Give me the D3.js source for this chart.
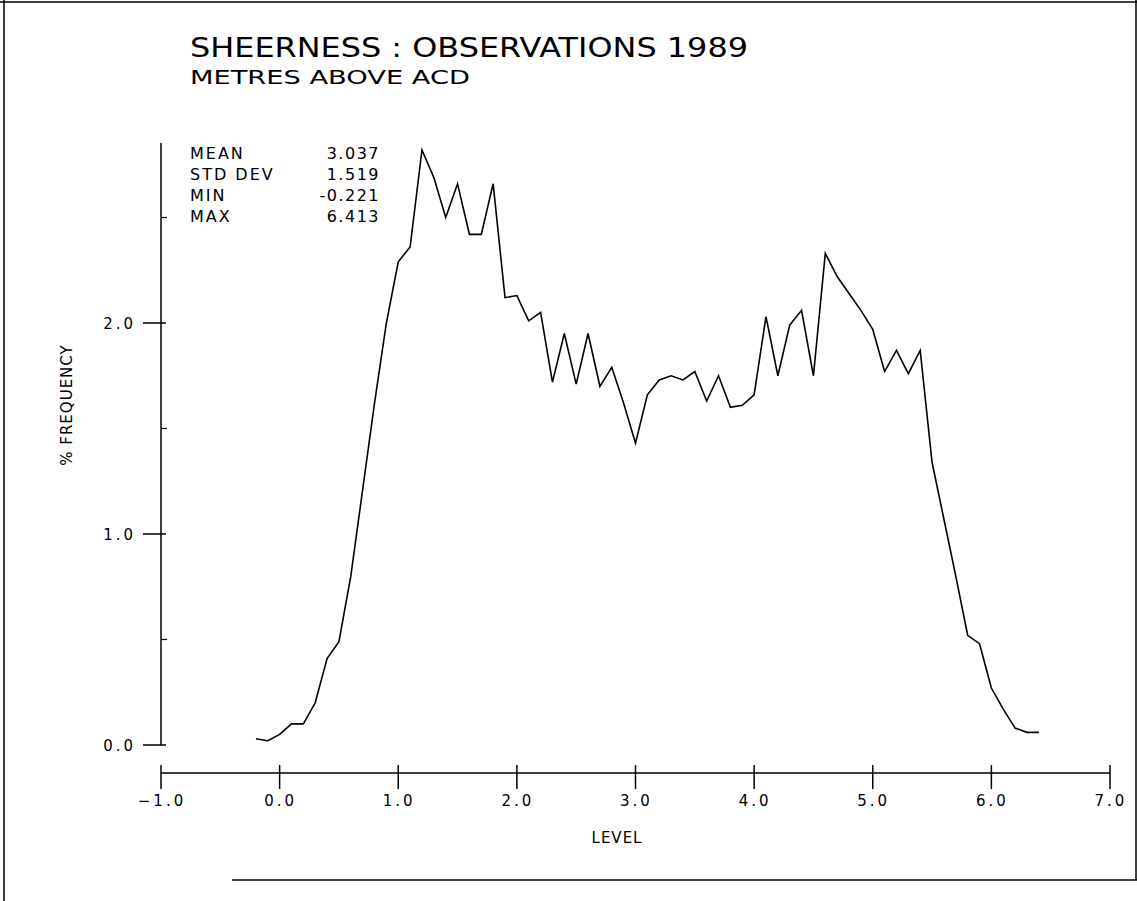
<!DOCTYPE html>
<html>
<head>
<meta charset="utf-8">
<script src="https://cdn.jsdelivr.net/npm/d3@7"></script>
<style>
  html, body { margin: 0; padding: 0; background: #fff; }
  svg { display: block; }
  text { font-family: "DejaVu Sans", sans-serif; fill: #000; }
</style>
</head>
<body>
<script>
// ---- data ----
const levels = [-0.2,-0.1,0.0,0.1,0.2,0.3,0.4,0.5,0.6,0.7,0.8,0.9,1.0,1.1,1.2,1.3,1.4,1.5,1.6,1.7,1.8,1.9,
  2.0,2.1,2.2,2.3,2.4,2.5,2.6,2.7,2.8,2.9,3.0,3.1,3.2,3.3,3.4,3.5,3.6,3.7,3.8,3.9,4.0,4.1,4.2,4.3,4.4,
  4.5,4.6,4.7,4.8,4.9,5.0,5.1,5.2,5.3,5.4,5.5,5.6,5.7,5.8,5.9,6.0,6.1,6.2,6.3,6.4];
const frequency = [0.03,0.02,0.05,0.10,0.10,0.20,0.41,0.49,0.80,1.21,1.62,2.00,2.29,2.36,2.82,2.69,2.50,2.66,2.42,2.42,2.66,2.12,
  2.13,2.01,2.05,1.72,1.95,1.71,1.95,1.70,1.79,1.62,1.43,1.66,1.73,1.75,1.73,1.77,1.63,1.75,1.60,1.61,1.66,2.03,1.75,1.99,2.06,
  1.75,2.33,2.22,2.14,2.06,1.97,1.77,1.87,1.76,1.87,1.34,1.07,0.80,0.52,0.48,0.27,0.17,0.08,0.06,0.06];
const xTicks = [-1.0,0.0,1.0,2.0,3.0,4.0,5.0,6.0,7.0];
const yMajorTicks = [0.0,1.0,2.0];
const yMinorTicks = [0.5,1.5,2.5];
const statLabels = ["MEAN","STD DEV","MIN","MAX"];
const statValues = ["3.037","1.519","-0.221","6.413"];
const titleText = "SHEERNESS : OBSERVATIONS 1989";
const subtitleText = "METRES ABOVE ACD";
const xLabel = "LEVEL";
const yLabel = "% FREQUENCY";

// ---- drawing ----
const W = 1137, H = 901;
const svg = d3.select("body").append("svg").attr("width", W).attr("height", H);

// page frame
const frame = svg.append("g").attr("stroke", "#000").attr("stroke-width", 1.5);
frame.append("line").attr("x1", 0).attr("x2", W).attr("y1", 2).attr("y2", 2);
frame.append("line").attr("x1", 4).attr("x2", 4).attr("y1", 0).attr("y2", H);
frame.append("line").attr("x1", 232).attr("x2", W).attr("y1", 880).attr("y2", 880);
frame.append("line").attr("x1", W - 1).attr("x2", W - 1).attr("y1", 0).attr("y2", 880);

const x = d3.scaleLinear().domain([-1, 7]).range([161, 1110]);
const y = d3.scaleLinear().domain([0, 2]).range([745, 323]);

// Y axis
const yAxisX = 161;
svg.append("line").attr("x1", yAxisX).attr("x2", yAxisX)
  .attr("y1", y(0)).attr("y2", 143).attr("stroke", "#000").attr("stroke-width", 1.5);
svg.selectAll(".ymaj").data(yMajorTicks).enter().append("line")
  .attr("x1", yAxisX - 18).attr("x2", yAxisX + 5)
  .attr("y1", d => y(d)).attr("y2", d => y(d))
  .attr("stroke", "#000").attr("stroke-width", 1.5);
svg.selectAll(".ymin").data(yMinorTicks).enter().append("line")
  .attr("x1", yAxisX).attr("x2", yAxisX + 6)
  .attr("y1", d => y(d)).attr("y2", d => y(d))
  .attr("stroke", "#000").attr("stroke-width", 1.2);
svg.selectAll(".ylab").data(yMajorTicks).enter().append("text")
  .attr("x", 136).attr("y", d => y(d) + 6)
  .attr("text-anchor", "end").attr("font-size", 15).attr("letter-spacing", 3)
  .text(d => d3.format(".1f")(d));

// X axis
const xAxisY = 773;
svg.append("line").attr("x1", x(-1)).attr("x2", x(7))
  .attr("y1", xAxisY).attr("y2", xAxisY).attr("stroke", "#000").attr("stroke-width", 1.5);
svg.selectAll(".xt").data(xTicks).enter().append("line")
  .attr("x1", d => x(d)).attr("x2", d => x(d))
  .attr("y1", xAxisY - 8).attr("y2", xAxisY + 16)
  .attr("stroke", "#000").attr("stroke-width", 1.5);
svg.selectAll(".xlab").data(xTicks).enter().append("text")
  .attr("x", d => x(d) + 1).attr("y", 806)
  .attr("text-anchor", "middle").attr("font-size", 15).attr("letter-spacing", 3)
  .text(d => d3.format(".1f")(d));

svg.append("text").attr("x", 617).attr("y", 843).attr("text-anchor", "middle")
  .attr("font-size", 15).attr("letter-spacing", 1).text(xLabel);

svg.append("text").attr("transform", "translate(72,405) rotate(-90)")
  .attr("text-anchor", "middle").attr("font-size", 15).attr("letter-spacing", 1).text(yLabel);

// titles
svg.append("text").attr("x", 190).attr("y", 57).attr("font-size", 26)
  .attr("textLength", 558).attr("lengthAdjust", "spacingAndGlyphs").text(titleText);
svg.append("text").attr("x", 190).attr("y", 84).attr("font-size", 19)
  .attr("textLength", 280).attr("lengthAdjust", "spacingAndGlyphs").text(subtitleText);

// stats
const statY = d3.scalePoint().domain(statLabels).range([159, 222]);
svg.selectAll(".sl").data(statLabels).enter().append("text")
  .attr("x", 190).attr("y", d => statY(d)).attr("font-size", 16).attr("letter-spacing", 2)
  .text(d => d);
svg.selectAll(".sv").data(statValues).enter().append("text")
  .attr("x", 380).attr("y", (d, i) => statY(statLabels[i])).attr("text-anchor", "end")
  .attr("font-size", 16).attr("letter-spacing", 1.5)
  .text(d => d);

// frequency line
const line = d3.line().x((d, i) => x(levels[i])).y(d => y(d));
svg.append("path").datum(frequency).attr("d", line)
  .attr("fill", "none").attr("stroke", "#000").attr("stroke-width", 1.6)
  .attr("stroke-linejoin", "miter");
</script>
</body>
</html>
